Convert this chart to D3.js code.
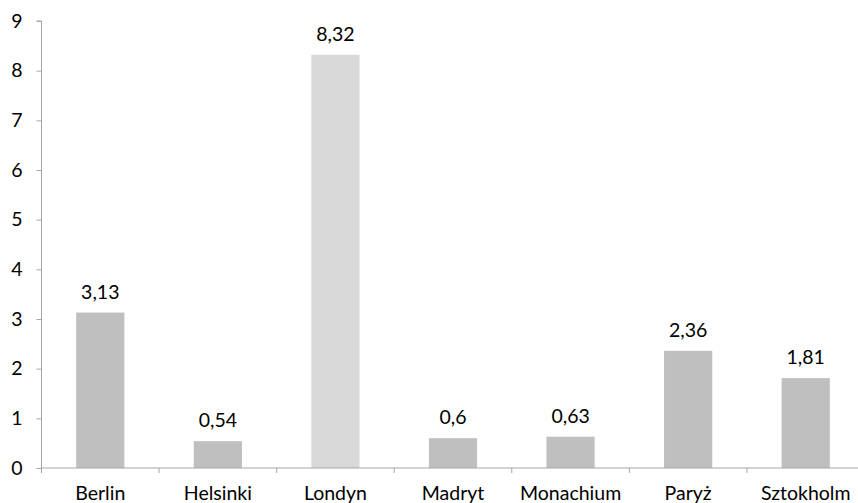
<!DOCTYPE html>
<html>
<head>
<meta charset="utf-8">
<script src="https://cdn.jsdelivr.net/npm/d3@7/dist/d3.min.js"></script>
<style>
  html, body { margin: 0; padding: 0; background: #ffffff; }
  svg text { font-family: Lato, "Noto Sans", sans-serif; fill: #000; }
</style>
</head>
<body>
<svg id="chart" width="858" height="503"></svg>
<script>
// Cities and their values
const cities = ["Berlin", "Helsinki", "Londyn", "Madryt", "Monachium", "Paryż", "Sztokholm"];
const values = [3.13, 0.54, 8.32, 0.6, 0.63, 2.36, 1.81];
const highlighted = ["Londyn"];
const yTicks = [0, 1, 2, 3, 4, 5, 6, 7, 8, 9];

(function () {
  const svg = d3.select("#chart");
  const plotLeft = 41.5, plotRight = 864.5, plotTop = 21, plotBottom = 468;
  const fontSize = 19.5;

  const x = d3.scaleBand().domain(cities).range([plotLeft, plotRight]).paddingInner(0.59).paddingOuter(0.295);
  const y = d3.scaleLinear().domain([0, 9]).range([plotBottom, plotTop]);
  const fmt = v => String(v).replace(".", ",");

  // bars
  svg.append("g").selectAll("rect")
    .data(cities)
    .join("rect")
    .attr("x", d => x(d))
    .attr("y", (d, i) => y(values[i]))
    .attr("width", x.bandwidth())
    .attr("height", (d, i) => y(0) - y(values[i]))
    .attr("fill", d => highlighted.includes(d) ? "#d9d9d9" : "#bfbfbf");

  // value labels
  svg.append("g").selectAll("text")
    .data(cities)
    .join("text")
    .attr("x", d => x(d) + x.bandwidth() / 2)
    .attr("y", (d, i) => y(values[i]) - 14)
    .attr("text-anchor", "middle")
    .attr("font-size", fontSize)
    .text((d, i) => fmt(values[i]));

  // y axis
  const yAxis = svg.append("g")
    .attr("transform", `translate(${plotLeft},0)`)
    .call(d3.axisLeft(y).tickValues(yTicks).tickSize(5).tickPadding(14).tickFormat(d3.format("d")));
  yAxis.select(".domain").attr("stroke", "#a6a6a6").attr("d", `M-5,${plotTop}H0V${plotBottom}`);
  yAxis.selectAll(".tick line").attr("stroke", "#a6a6a6");
  yAxis.selectAll(".tick text").attr("font-size", fontSize).attr("font-family", "Lato, sans-serif").attr("fill", "#000");

  // x axis with ticks at band boundaries
  const xAxis = svg.append("g").attr("transform", `translate(0,${plotBottom})`);
  xAxis.append("line")
    .attr("x1", plotLeft).attr("x2", plotRight)
    .attr("stroke", "#a6a6a6");
  const step = x.step();
  const bounds = d3.range(cities.length + 1).map(i => plotLeft + i * step);
  xAxis.selectAll("line.tk")
    .data(bounds)
    .join("line")
    .attr("class", "tk")
    .attr("x1", d => d).attr("x2", d => d)
    .attr("y1", 0).attr("y2", 5)
    .attr("stroke", "#a6a6a6");
  xAxis.selectAll("text")
    .data(cities)
    .join("text")
    .attr("x", d => x(d) + x.bandwidth() / 2)
    .attr("y", 32)
    .attr("text-anchor", "middle")
    .attr("font-size", fontSize)
    .text(d => d);
})();
</script>
</body>
</html>
